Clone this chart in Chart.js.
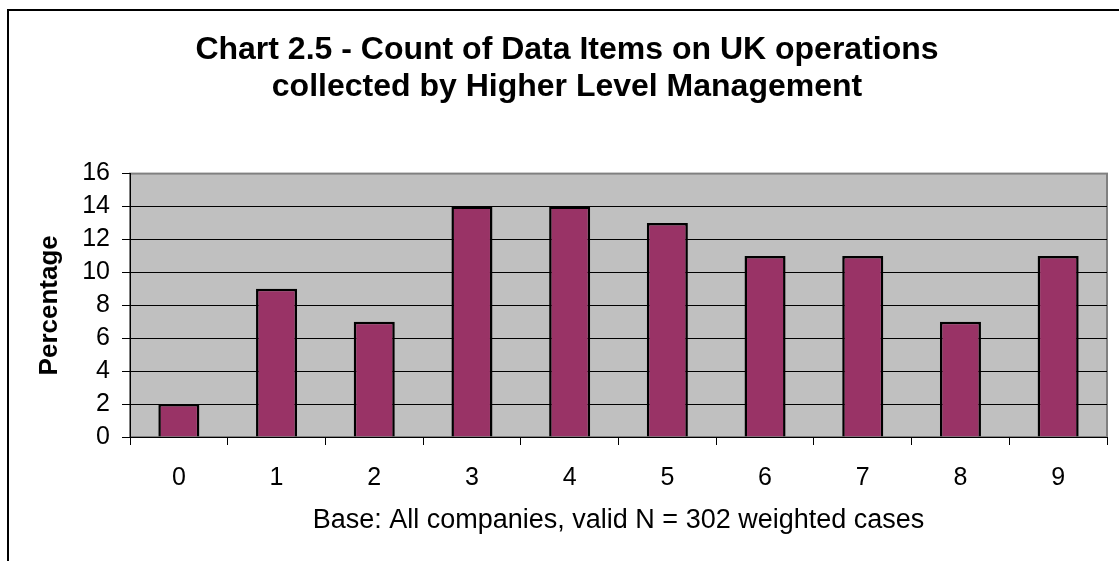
<!DOCTYPE html>
<html>
<head>
<meta charset="utf-8">
<title>Chart 2.5</title>
<script src="https://cdn.jsdelivr.net/npm/chart.js@4"></script>
<style>
  html, body { margin: 0; padding: 0; background: #fff; overflow: hidden; width: 1119px; height: 561px; }
  #frame { position: absolute; left: 7px; top: 9px; width: 1120px; height: 560px;
           border-left: 2px solid #000; border-top: 2px solid #000; background: #fff; }
  #chart { display: block; }
</style>
</head>
<body>
<div id="frame"><canvas id="chart" width="1120" height="550"></canvas></div>
<script>
// データ
const categories = ["0", "1", "2", "3", "4", "5", "6", "7", "8", "9"];
const percentages = [2, 9, 7, 14, 14, 13, 11, 11, 7, 11];
const yMin = 0, yMax = 16, yStep = 2;

const titleLines = ["Chart 2.5 - Count of Data Items on UK operations", "collected by Higher Level Management"];
const xTitle = "Base: All companies, valid N = 302 weighted cases";
const yTitle = "Percentage";

const FONT = "'Liberation Sans', Arial, sans-serif";
const $ = (s) => document.querySelector(s);

// プロットエリアの灰色背景と枠
const plotBg = {
  id: "plotBg",
  beforeDraw(chart) {
    const { ctx, chartArea: a } = chart;
    ctx.save();
    ctx.fillStyle = "#c0c0c0";
    ctx.fillRect(a.left, a.top, a.right - a.left, a.bottom - a.top);
    ctx.strokeStyle = "#808080";
    ctx.lineWidth = 2;
    ctx.strokeRect(a.left, a.top, a.right - a.left, a.bottom - a.top);
    ctx.restore();
  }
};

function init() {
  new Chart($("#chart"), {
    type: "bar",
    data: {
      labels: categories,
      datasets: [{
        data: percentages,
        backgroundColor: "#993366",
        borderColor: "#000",
        borderWidth: 2.5,
        categoryPercentage: 1,
        barPercentage: 0.42
      }]
    },
    options: {
      responsive: false,
      animation: false,
      layout: { padding: { left: 18, right: 22, top: 0, bottom: 0 } },
      plugins: {
        legend: { display: false },
        tooltip: { enabled: false },
        title: {
          display: true,
          text: titleLines,
          color: "#000",
          font: { family: FONT, size: 32, weight: "bold", lineHeight: 1.15 },
          padding: { top: 21, bottom: 68 }
        }
      },
      scales: {
        x: {
          afterFit: (s) => { s.height = 124; },
          grid: { display: true, drawOnChartArea: false, drawTicks: true, tickLength: 8, color: "#000", offset: true },
          border: { display: true, color: "#000", width: 1 },
          ticks: { color: "#000", padding: 18, font: { family: FONT, size: 25 } },
          title: { display: true, text: xTitle, color: "#000", font: { family: FONT, size: 27 }, padding: { top: 0, bottom: 24 } }
        },
        y: {
          min: yMin, max: yMax,
          afterFit: (s) => { s.width = 103; },
          grid: {
            drawTicks: true, tickLength: 8,
            color: (c) => (c.tick && c.tick.value === yMax ? "#808080" : "#000"),
            tickColor: "#000"
          },
          border: { display: true, color: "#000", width: 1 },
          ticks: { stepSize: yStep, autoSkip: false, color: "#000", padding: 12, font: { family: FONT, size: 25 } },
          title: { display: true, text: yTitle, color: "#000", font: { family: FONT, size: 26, weight: "bold" }, padding: { top: 7, bottom: 0 } }
        }
      }
    },
    plugins: [plotBg]
  });
}

document.addEventListener("DOMContentLoaded", init);
</script>
</body>
</html>
